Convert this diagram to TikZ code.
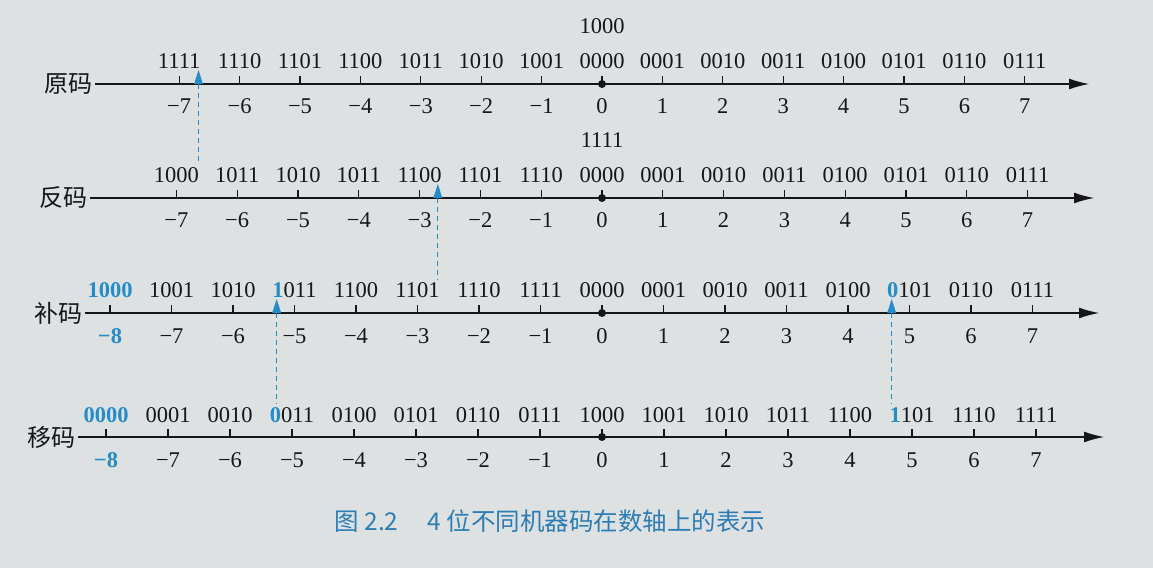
\documentclass[tikz,border=0pt]{standalone}
\usepackage{fontspec}
\setmainfont{Liberation Serif}
\newfontfamily\cjk{Noto Sans CJK SC}
\usetikzlibrary{arrows.meta}
\definecolor{paper}{RGB}{221,225,226}
\definecolor{ink}{RGB}{22,22,24}
\definecolor{hl}{RGB}{38,140,200}
\definecolor{capblue}{RGB}{45,125,180}
\newcommand\hlb[1]{\textcolor{hl}{\bfseries #1}}
\begin{document}
\begin{tikzpicture}[x=1pt,y=1pt,
  axisline/.style={line width=2.4pt, draw=ink, -{Latex[length=21pt,width=11pt]}},
  tickmark/.style={line width=1.3pt, draw=ink},
  codetxt/.style={font=\fontsize{22.5}{22.5}\selectfont, text=ink, anchor=base, inner sep=0pt},
  numtxt/.style={font=\fontsize{22.5}{22.5}\selectfont, text=ink, anchor=base, inner sep=0pt},
  rowlab/.style={font=\cjk\fontsize{24}{24}\selectfont, text=ink, anchor=east, inner sep=2pt},
  linkline/.style={draw=hl, line width=1.2pt, dash pattern=on 5pt off 4pt},
  marker/.style={fill=hl},
  zerodot/.style={fill=ink},
  captxt/.style={font=\cjk\fontsize{24.5}{24.5}\selectfont, text=capblue}
]
\fill[paper] (0,0) rectangle (1153,568);
\useasboundingbox (0,0) rectangle (1153,568);

\begin{scope}[xshift=602pt]
% ---------- row 1: 原码 ----------
\coordinate (s1) at (-507,484);
\coordinate (e1) at (488,484);
\draw[axisline] (s1) -- (e1);
\node[rowlab] (L1) at (s1) {原码};
\foreach \c/\n [count=\i] in {1111/−7,1110/−6,1101/−5,1100/−4,1011/−3,1010/−2,1001/−1,0000/0,0001/1,0010/2,0011/3,0100/4,0101/5,0110/6,0111/7}{
  \pgfmathsetmacro\xx{(\i-8)*60.4}
  \draw[tickmark] (\xx,484) -- ++(0,8);
  \node[codetxt] (r1c\i) at (\xx,499) {\c};
  \node[numtxt] (r1n\i) at (\xx,454) {\n};
}
\node[codetxt] (r1x) at (0,534) {1000};
\fill[zerodot] (0,484) circle (4);

% ---------- row 2: 反码 ----------
\coordinate (s2) at (-512,370);
\coordinate (e2) at (493,370);
\draw[axisline] (s2) -- (e2);
\node[rowlab] (L2) at (s2) {反码};
\foreach \c/\n [count=\i] in {1000/−7,1011/−6,1010/−5,1011/−4,1100/−3,1101/−2,1110/−1,0000/0,0001/1,0010/2,0011/3,0100/4,0101/5,0110/6,0111/7}{
  \pgfmathsetmacro\xx{(\i-8)*60.8}
  \draw[tickmark] (\xx,370) -- ++(0,8);
  \node[codetxt] (r2c\i) at (\xx,385) {\c};
  \node[numtxt] (r2n\i) at (\xx,340) {\n};
}
\node[codetxt] (r2x) at (0,420) {1111};
\fill[zerodot] (0,370) circle (4);

% ---------- row 3: 补码 ----------
\coordinate (s3) at (-517,255);
\coordinate (e3) at (498,255);
\draw[axisline] (s3) -- (e3);
\node[rowlab] (L3) at (s3) {补码};
\foreach \c/\n [count=\i] in {{\hlb{1000}}/{\hlb{−8}},1001/−7,1010/−6,{\hlb{1}011}/−5,1100/−4,1101/−3,1110/−2,1111/−1,0000/0,0001/1,0010/2,0011/3,0100/4,{\hlb{0}101}/5,0110/6,0111/7}{
  \pgfmathsetmacro\xx{(\i-9)*61.5}
  \draw[tickmark] (\xx,255) -- ++(0,8);
  \node[codetxt] (r3c\i) at (\xx,270) {\c};
  \node[numtxt] (r3n\i) at (\xx,225) {\n};
}
\fill[zerodot] (0,255) circle (4);

% ---------- row 4: 移码 ----------
\coordinate (s4) at (-524,131);
\coordinate (e4) at (503,131);
\draw[axisline] (s4) -- (e4);
\node[rowlab] (L4) at (s4) {移码};
\foreach \c/\n [count=\i] in {{\hlb{0000}}/{\hlb{−8}},0001/−7,0010/−6,{\hlb{0}011}/−5,0100/−4,0101/−3,0110/−2,0111/−1,1000/0,1001/1,1010/2,1011/3,1100/4,{\hlb{1}101}/5,1110/6,1111/7}{
  \pgfmathsetmacro\xx{(\i-9)*62}
  \draw[tickmark] (\xx,131) -- ++(0,8);
  \node[codetxt] (r4c\i) at (\xx,146) {\c};
  \node[numtxt] (r4n\i) at (\xx,101) {\n};
}
\fill[zerodot] (0,131) circle (4);

% ---------- markers and links ----------
\coordinate (m1) at (-6.68*60.4,484);
\coordinate (m2) at (-2.70*60.8,370);
\coordinate (m3) at (-5.29*61.5,255);
\coordinate (m4) at (4.71*61.5,255);
\foreach \m in {m1,m2,m3,m4}{
  \fill[marker] (\m) ++(-4.5,0) -- ++(9,0) -- ++(-4.5,14) -- cycle;
}
\draw[linkline] (m1) -- ([yshift=3pt]m1 |- r2c1.north);
\draw[linkline] (m2) -- ([yshift=3pt]m2 |- r3c6.north);
\draw[linkline] (m3) -- ([yshift=3pt]m3 |- r4c4.north);
\draw[linkline] (m4) -- ([yshift=3pt]m4 |- r4c14.north);
\end{scope}

% ---------- caption ----------
\node[captxt] (caption) at (550,47) {图 2.2\hspace{1.2em}4 位不同机器码在数轴上的表示};
\end{tikzpicture}
\end{document}
